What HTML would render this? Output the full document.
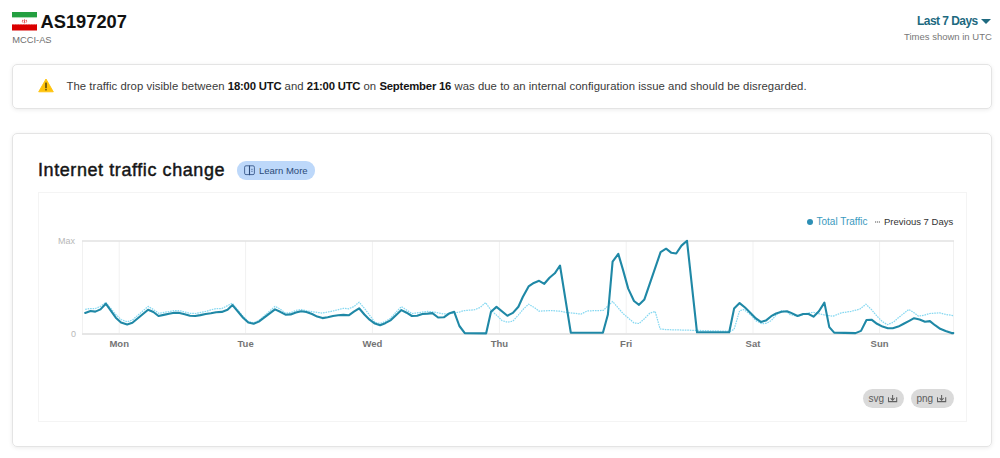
<!DOCTYPE html>
<html><head><meta charset="utf-8">
<style>
*{margin:0;padding:0;box-sizing:border-box}
html,body{width:1000px;height:458px;overflow:hidden;background:#fff;font-family:"Liberation Sans",sans-serif;color:#222}
.abs{position:absolute;white-space:nowrap}
.flag{position:absolute;left:12px;top:12px;width:25px;height:18.5px}
.asn{left:40.5px;top:10.5px;font-size:18.3px;font-weight:bold;color:#111;line-height:22px}
.org{left:12.3px;top:34.7px;font-size:9.3px;color:#6e6e6e;line-height:11px}
.range{left:917px;top:13.5px;font-size:12px;font-weight:bold;color:#1d6a7f;line-height:14px;letter-spacing:-0.55px}
.tri{position:absolute;left:981px;top:19px;width:0;height:0;border-left:5px solid transparent;border-right:5px solid transparent;border-top:5px solid #1f6a80}
.utc{left:904px;top:31px;font-size:9.5px;color:#777;line-height:11px}
.note{position:absolute;left:12px;top:64px;width:980px;height:44.5px;border:1px solid #e4e4e4;border-radius:5px;box-shadow:0 1px 4px rgba(0,0,0,0.08)}
.notetext{left:66.5px;top:79.5px;font-size:11.32px;color:#3a3a3a;line-height:13px;letter-spacing:0.055px}
.notetext b{color:#141414;letter-spacing:-0.2px}
.card{position:absolute;left:12px;top:133px;width:980px;height:313.7px;border:1px solid #e4e4e4;border-radius:5px;box-shadow:0 1px 4px rgba(0,0,0,0.08)}
.title{left:38px;top:159px;font-size:18px;letter-spacing:0.58px;-webkit-text-stroke:0.45px #161616;color:#161616;line-height:22px}
.pill{position:absolute;left:237px;top:161px;width:78px;height:18.5px;border-radius:9px;background:#bdd8fa}
.learn{left:259px;top:165px;font-size:9.5px;color:#2b4a78;line-height:11px}
.inner{position:absolute;left:38px;top:192px;width:929px;height:230px;border:1px solid #f4f4f4}
.leg1{left:816.5px;top:216px;font-size:10px;color:#3a9ac0;line-height:11px}
.leg2{left:884px;top:216px;font-size:9.5px;color:#333;line-height:11px}
.ax{font-size:9px;color:#b8b8b8;line-height:11px}
.day{font-size:9.5px;font-weight:bold;color:#747474;line-height:11px}
.dl{position:absolute;top:389px;height:19px;border-radius:9.5px;background:#dadada}
.dlt{font-size:10px;color:#5c5c5c;line-height:11px}
</style></head><body>
<svg class="flag" viewBox="0 0 25 18.5">
<rect x="0" y="0" width="25" height="5.6" fill="#239f40"/>
<rect x="0" y="5.6" width="25" height="6.7" fill="#fff"/>
<rect x="0" y="12.3" width="25" height="6.2" fill="#da0000"/>
<path d="M0.5 5.6H24.5" stroke="#9fd6ac" stroke-width="0.6" stroke-dasharray="1,0.6"/>
<path d="M0.5 12.5H24.5" stroke="#f0a0a0" stroke-width="0.6" stroke-dasharray="1,0.6"/>
<path d="M10.6 7.8 Q9.8 9.6 11.2 10.8 M14.4 7.8 Q15.2 9.6 13.8 10.8 M12.5 7.2 V11.4 M11.5 8.6 Q12.5 10.2 13.5 8.6" fill="none" stroke="#e23030" stroke-width="0.7"/>
</svg>
<div class="abs asn">AS197207</div>
<div class="abs org">MCCI-AS</div>
<div class="abs range">Last 7 Days</div>
<div class="tri"></div>
<div class="abs utc">Times shown in UTC</div>

<div class="note"></div>
<svg class="abs" style="left:38px;top:78px" width="16" height="15" viewBox="0 0 16 15">
<path d="M8 1 L15.3 13.8 L0.7 13.8 Z" fill="#ffc30b" stroke="#ffc30b" stroke-width="0.9" stroke-linejoin="round"/>
<rect x="7.45" y="4.6" width="1.1" height="5.6" fill="#111"/>
<rect x="7.45" y="11.1" width="1.1" height="1.3" fill="#111"/>
</svg>
<div class="abs notetext">The traffic drop visible between <b>18:00 UTC</b> and <b>21:00 UTC</b> on <b>September 16</b> was due to an internal configuration issue and should be disregarded.</div>

<div class="card"></div>
<div class="abs title">Internet traffic change</div>
<div class="pill"></div>
<svg class="abs" style="left:243px;top:164px" width="13" height="12" viewBox="0 0 13 12">
<rect x="1.6" y="1.8" width="9.8" height="8.8" rx="1.4" fill="none" stroke="#3a5a8c" stroke-width="0.9"/>
<path d="M6.5 1.6V11.2" stroke="#2b4a78" stroke-width="1.1"/>
<path d="M8.3 5.3H9.6 M8.3 7.3H9.6" stroke="#3a5a8c" stroke-width="0.9"/>
</svg>
<div class="abs learn">Learn More</div>

<div class="inner"></div>
<div class="abs leg1">Total Traffic</div>
<div class="abs leg2">Previous 7 Days</div>
<svg class="abs" style="left:0;top:0" width="1000" height="458">
<g stroke="#f1f1f1" stroke-width="1" fill="none"><path d="M119.2 241V334"/><path d="M245.6 241V334"/><path d="M372.4 241V334"/><path d="M499.4 241V334"/><path d="M626.2 241V334"/><path d="M753 241V334"/><path d="M879.6 241V334"/><path d="M82.5 241V334"/><path d="M953.5 241V334"/></g>
<path d="M82 241H954" stroke="#e2e2e2" stroke-width="1.4"/>
<path d="M82 334H954" stroke="#e6e6e6" stroke-width="2"/>
<polyline points="85.2,309.4 90.5,308.5 95.3,308.5 100.5,306.4 105.8,302.4 115.8,314.5 121,319.5 127.2,321.8 132.4,320 148.1,306.4 153.4,309.5 158.5,313.3 174.2,310.7 179.5,310.7 190,313.3 195.2,313.5 205.7,311.4 216.1,308.5 221.8,308.5 232.3,303.2 243.1,316.5 248.3,321.5 253.6,322.8 258.8,320.6 275,306.4 280.2,309 285.5,313.3 290.7,312.6 295.9,310.5 301.2,309.5 305,310.5 312,311.7 322.5,313.1 333,311 343.4,308.3 348.7,308.8 353.9,306.6 359.1,302.2 364.4,308.3 374.9,322.3 380.1,323.6 385.2,321.5 390.9,318 396.2,312 401.4,306.6 411.9,313.6 427.6,311.4 432.4,311.8 443.8,314 454.2,313.1 460,311.8 463.7,310.7 474.7,309.7 480.1,307.5 485.6,302.6 491,310.2 496.5,315.1 502,320.6 507.4,322.2 512.9,321.1 518.3,315.1 523.8,308.6 528.6,304.2 535,308 539.1,311.2 549.9,310.5 560,311.2 567.3,312.6 575,313.4 580.9,314.1 587.4,310.9 603.3,310.4 612.6,301.5 623,313.5 634,322.9 639,323.5 644.4,318.7 649.8,313.2 655.2,311.5 660.1,328.9 665.6,329.6 730.3,331.3 734.1,329.3 739.6,310.7 743.9,309.6 750.5,314.6 755.9,320.6 761.9,323.8 766.3,323.3 771.2,320.6 776.1,315.1 781.6,310.7 787,311.8 790,314.6 797.6,316.2 808.6,312.9 813.5,312.4 824.9,315.1 833.1,316.2 841.3,312.9 851.1,311.3 859.9,309.1 865.9,304.2 871.5,309.6 877,316.2 882.5,321.7 887.4,324.7 893.4,322.2 898.3,317.8 903.7,313.5 908.7,309.4 913.6,312.4 918.5,316.2 924.5,315.1 929.9,313.5 939.6,312.9 946.2,314.5 953.3,315.6" fill="none" stroke="#86d8f1" stroke-width="1.25" stroke-dasharray="1.6,0.9" stroke-linejoin="round"/>
<polyline points="85.2,312.9 90.5,311 95.3,311.6 100.5,309.4 105.8,303.7 115.8,317.7 121,322.5 127.2,324.4 132.4,322.8 148.1,309.8 153.4,312 158.5,316 163.7,314.9 169,313.8 174.2,312.7 179.5,312.9 184.7,314.2 190,315.7 195.2,316 200.4,315.1 205.7,314 210.9,313.3 216.1,312.3 221.8,311.9 227.5,309.8 232.5,305.1 243.1,317.7 248.3,322.5 253.6,323.8 258.8,321.6 275,309.4 280.2,311.8 285.5,314.7 290.7,314.4 295.9,312.5 301.2,311.2 306.4,312 312,314 317.2,316.6 322.5,318.1 327.7,317.2 333,316 338.2,315.3 343.4,314.9 348.7,315.3 353.9,311.7 359.1,308.3 364.4,314.5 369.6,319.7 374.9,323.6 380.1,325.3 385.2,323.2 390.9,320.1 396.2,314.9 401.4,310.1 406.6,312.7 411.9,316 417.1,315.8 422.4,314 427.6,313.6 432.4,313.1 438.1,317.5 443.8,317.3 449,313.6 454.2,311.8 459.4,326 464.8,333.1 486.1,333.4 491,311.8 496.5,306.9 507.4,315.7 512.9,312.9 518.4,306.7 522.8,297 528.6,286.4 533.8,282.9 539.1,280.8 544.3,283.8 549.5,277.7 554.8,273.3 560,265.5 570.8,332.7 602.9,332.7 607.9,314.5 612.6,261.6 618.3,253.9 623,269.9 628.2,288.6 634,301 639,304.8 644.4,299.4 660.6,252.1 666.1,248.7 671.4,252.8 676.2,253.5 681.5,245.6 687,240.8 697,332.3 729.2,332.3 734.1,308.6 739.6,303.1 745,307.5 750.5,312.9 755.9,318.4 760.8,321.9 765.8,320.6 771.2,316.2 776.1,313.5 781.6,311.8 787,311.3 790,312.4 797.6,316 803.1,314 808.6,314 813.5,316.7 818.9,311.3 824.4,302.6 829.3,327.1 834.2,332.6 855.5,333.1 861,330.9 866.5,320 871.5,319.7 877,323.8 882.5,326.6 887.9,328.2 892.8,328.2 898.3,326.6 903.7,323.8 909.2,320.9 914.1,318.2 919.6,319.5 925,321.7 929.9,321.1 935,325.2 940.2,328.8 945.6,331 951.6,333.1 953.3,333.1" fill="none" stroke="#1f88a6" stroke-width="2.1" stroke-linejoin="round" stroke-linecap="round"/>
<circle cx="810" cy="222" r="3" fill="#2d8fb5"/>
<path d="M875 222 H880" stroke="#555" stroke-width="1.2" stroke-dasharray="1.2,0.8"/>
</svg>
<div class="abs ax" style="left:58px;top:236px">Max</div>
<div class="abs ax" style="left:71px;top:329px">0</div>
<div class="abs day" style="left:119.2px;top:338px;transform:translateX(-50%)">Mon</div>
<div class="abs day" style="left:245.6px;top:338px;transform:translateX(-50%)">Tue</div>
<div class="abs day" style="left:372.4px;top:338px;transform:translateX(-50%)">Wed</div>
<div class="abs day" style="left:499.4px;top:338px;transform:translateX(-50%)">Thu</div>
<div class="abs day" style="left:626.2px;top:338px;transform:translateX(-50%)">Fri</div>
<div class="abs day" style="left:753.0px;top:338px;transform:translateX(-50%)">Sat</div>
<div class="abs day" style="left:879.6px;top:338px;transform:translateX(-50%)">Sun</div>

<div class="dl" style="left:862.5px;width:41.5px"></div>
<div class="abs dlt" style="left:868.6px;top:392.5px">svg</div>
<div class="dl" style="left:910.5px;width:43px"></div>
<div class="abs dlt" style="left:916.5px;top:392.5px">png</div>
<svg class="abs" style="left:0;top:0" width="1000" height="458">
<g fill="none" stroke="#606060" stroke-width="1.05">
<path d="M888.5 397.2V401.6H896.7V397.2"/><path d="M892.6 395V400"/><path d="M890.6 398.2L892.6 400.2L894.6 398.2"/>
<path d="M937.5 397.2V401.6H945.7V397.2"/><path d="M941.6 395V400"/><path d="M939.6 398.2L941.6 400.2L943.6 398.2"/>
</g>
</svg>
</body></html>
